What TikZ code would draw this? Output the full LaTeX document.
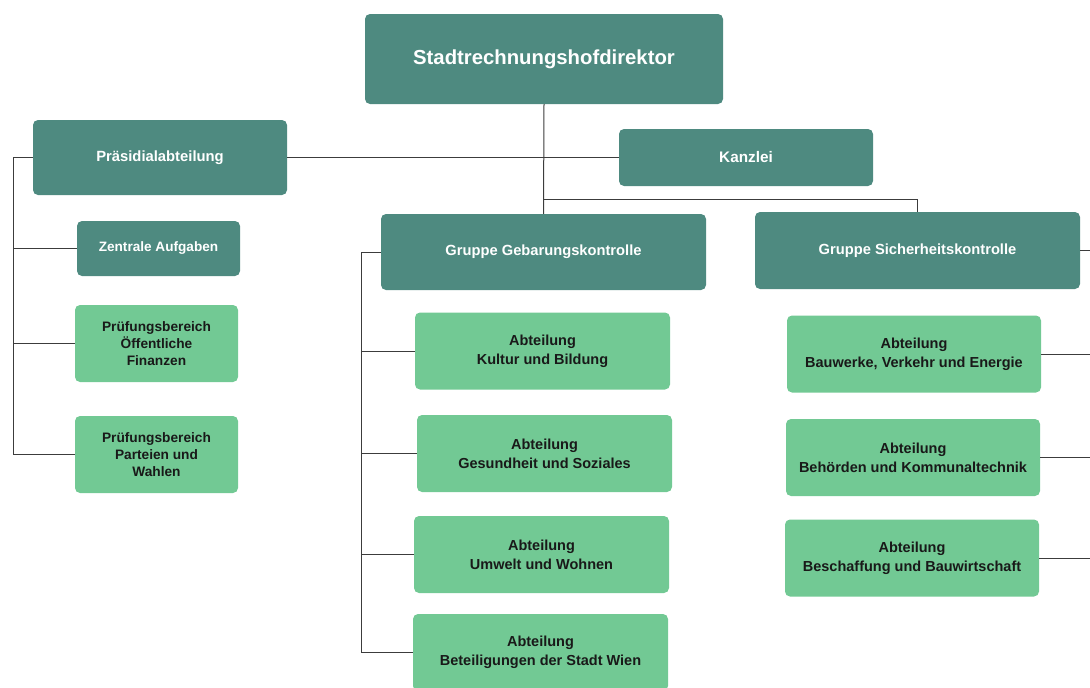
\documentclass[tikz,border=0pt]{standalone}
\usepackage{fontspec}
\setmainfont{Liberation Sans}
\usetikzlibrary{positioning}
\definecolor{tealdark}{RGB}{78,138,128}
\definecolor{greenlight}{RGB}{114,201,148}
\definecolor{linegray}{RGB}{60,60,60}

\tikzset{
  headbox/.style={fill=tealdark, text=white, rounded corners=5pt, align=center,
    inner sep=0pt, font=\bfseries\fontsize{14.8}{17}\selectfont},
  deptbox/.style={fill=greenlight, text=black!90, rounded corners=5pt, align=center,
    inner sep=0pt, font=\bfseries\fontsize{14.5}{19}\selectfont},
  link/.style={linegray, line width=1pt}
}

\begin{document}
\begin{tikzpicture}[x=1pt, y=-1pt]
		\useasboundingbox (0,0) rectangle (1090,688);

		% top level
		\node [headbox, minimum width=358pt, minimum height=90pt, font=\bfseries\fontsize{20.3}{24}\selectfont] (dir) at (544,59) {Stadtrechnungshofdirektor};
		\node [headbox, minimum width=254pt, minimum height=75pt] (praes) at (160,157.5) {Präsidialabteilung};
		\node [headbox, minimum width=254pt, minimum height=57pt, font=\bfseries\fontsize{15.3}{18}\selectfont] (kanz) at (746,157.5) {Kanzlei};

		% groups
		\node [headbox, minimum width=325pt, minimum height=76pt, font=\bfseries\fontsize{14.7}{17}\selectfont] (gg) at (543.5,252) {Gruppe Gebarungskontrolle};
		\node [headbox, minimum width=325pt, minimum height=77pt, font=\bfseries\fontsize{14.7}{17}\selectfont] (gsk) at (917.5,250.5) {Gruppe Sicherheitskontrolle};

		% Praesidialabteilung
		\node [headbox, minimum width=163pt, minimum height=55pt, font=\bfseries\fontsize{13.6}{16}\selectfont] (za) at (158.5,248.5) {Zentrale Aufgaben};
		\node [deptbox, minimum width=163pt, minimum height=77pt, font=\bfseries\fontsize{13.7}{17}\selectfont] (pof) at (156.5,343.5) {Prüfungsbereich\\Öffentliche\\Finanzen};
		\node [deptbox, minimum width=163pt, minimum height=77pt, font=\bfseries\fontsize{13.7}{17}\selectfont] (ppw) at (156.5,454.5) {Prüfungsbereich\\Parteien und\\Wahlen};

		% Gebarungskontrolle
		\node [deptbox, minimum width=255pt, minimum height=77pt] (kb) at (542.5,351) {Abteilung\\Kultur und Bildung};
		\node [deptbox, minimum width=255pt, minimum height=77pt] (gso) at (544.5,453.5) {Abteilung\\Gesundheit und Soziales};
		\node [deptbox, minimum width=255pt, minimum height=77pt] (uw) at (541.5,554.5) {Abteilung\\Umwelt und Wohnen};
		\node [deptbox, minimum width=255pt, minimum height=77pt] (bsw) at (540.5,652.5) {Abteilung\\Beteiligungen der Stadt Wien};

		% Sicherheitskontrolle
		\node [deptbox, minimum width=254pt, minimum height=77pt] (bve) at (914,354) {Abteilung\\Bauwerke, Verkehr und Energie};
		\node [deptbox, minimum width=254pt, minimum height=77pt] (bk) at (913,457.5) {Abteilung\\Behörden und Kommunaltechnik};
		\node [deptbox, minimum width=254pt, minimum height=77pt] (bbw) at (912,558) {Abteilung\\Beschaffung und Bauwirtschaft};

		% connectors
		\coordinate (jsk) at (544,199);
		\coordinate (lbus) at (13,157.5);
		\coordinate (mbus) at (361,252);
		\coordinate (redge) at (1090,0);

		\draw [link] (dir.south) -- (gg.north);
		\draw [link] (praes.east) -- (kanz.west);
		\draw [link] (jsk) -| (gsk.north);

		\draw [link] (praes.west) -- (lbus);
		\foreach \n in {za,pof,ppw}{
			\draw [link] (lbus) |- (\n.west);
		}
		\draw [link] (gg.west) -- (mbus);
		\foreach \n in {kb,gso,uw,bsw}{
			\draw [link] (mbus) |- (\n.west);
		}
		\foreach \n in {gsk,bve,bk,bbw}{
			\draw [link] (\n.east) -- (\n.east -| redge);
		}
	\end{tikzpicture}
\end{document}
